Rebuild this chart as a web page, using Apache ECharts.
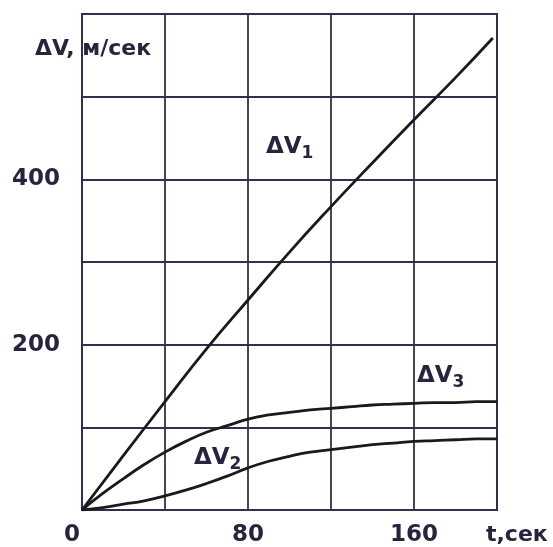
<!DOCTYPE html>
<html>
<head>
<meta charset="utf-8">
<script src="https://cdn.jsdelivr.net/npm/echarts@6/dist/echarts.min.js"></script>
<style>html,body{margin:0;padding:0;background:#fff}#c{width:553px;height:547px}</style>
</head>
<body>
<div id="c"></div>
<script>
// Time points (s)
const tV1 = [0, 20, 40, 60, 80, 100, 120, 140, 160, 180, 198];
const dV1 = [0, 66, 131, 195, 254, 312, 367, 420, 472, 523, 571];
const tCurves = [0, 10, 20, 30, 40, 50, 60, 70, 80, 90, 100, 110, 120, 130, 140, 150, 160, 170, 180, 190, 200];
const dV3 = [0, 20, 38, 55, 70, 83, 94, 102, 110, 115, 118, 121, 123, 125, 127, 128, 129, 130, 130, 131, 131];
const dV2 = [0, 3, 7, 11, 17, 24, 32, 41, 51, 59, 65, 70, 73, 76, 79, 81, 83, 84, 85, 86, 86];
const xTickLabels = [0, 80, 160];
const yTickLabels = [200, 400];

const pair = (xs, ys) => xs.map((x, i) => [x, ys[i]]);
const FONT = 'DejaVu Sans';
const TXT = '#25253f';
const GRID = '#30304a';
const LINE = '#1a1a1a';

const chart = echarts.init(document.getElementById('c'), null, {renderer: 'canvas'});
const series = (data) => ({
  type: 'line', data, showSymbol: false, smooth: true, symbol: 'none',
  lineStyle: {color: LINE, width: 2.8}, silent: true
});
const lbl = (main, sub) => ({
  text: '{a|' + main + '}{b|' + sub + '}',
  rich: {
    a: {font: 'bold 23px "DejaVu Sans"', fill: TXT},
    b: {font: 'bold 17px "DejaVu Sans"', fill: TXT, padding: [12, 0, 0, 0]}
  }
});
chart.setOption({
  animation: false,
  grid: {left: 82, right: 56, top: 14, bottom: 35, show: true, borderColor: GRID, borderWidth: 2},
  xAxis: {
    type: 'value', min: 0, max: 200, interval: 40,
    axisLine: {show: false}, axisTick: {show: false},
    splitLine: {show: true, lineStyle: {color: GRID, width: 1.8}},
    axisLabel: {
      margin: 14, color: TXT, fontFamily: FONT, fontWeight: 'bold', fontSize: 23,
      formatter: v => xTickLabels.includes(v) ? (v === 0 ? '{z|0}' : String(v)) : '',
      rich: {z: {fontFamily: FONT, fontWeight: 'bold', fontSize: 23, color: TXT, padding: [0, 20, 0, 0]}}
    }
  },
  yAxis: {
    type: 'value', min: 0, max: 600, interval: 100,
    axisLine: {show: false}, axisTick: {show: false},
    splitLine: {show: true, lineStyle: {color: GRID, width: 1.8}},
    axisLabel: {
      margin: 22, color: TXT, fontFamily: FONT, fontWeight: 'bold', fontSize: 23,
      formatter: v => yTickLabels.includes(v) ? String(v) : ''
    }
  },
  graphic: [
    {type: 'text', left: 35, top: 38, style: {text: 'ΔV, м/сек', font: 'bold 22px "DejaVu Sans"', fill: TXT}},
    {type: 'text', left: 486, top: 524, style: {text: 't,сек', font: 'bold 22px "DejaVu Sans"', fill: TXT}},
    {type: 'text', left: 266, top: 136, style: lbl('ΔV', '1')},
    {type: 'text', left: 417, top: 365, style: lbl('ΔV', '3')},
    {type: 'text', left: 194, top: 447, style: lbl('ΔV', '2')}
  ],
  series: [
    series(pair(tV1, dV1)),
    series(pair(tCurves, dV3)),
    series(pair(tCurves, dV2))
  ]
});
</script>
</body>
</html>
